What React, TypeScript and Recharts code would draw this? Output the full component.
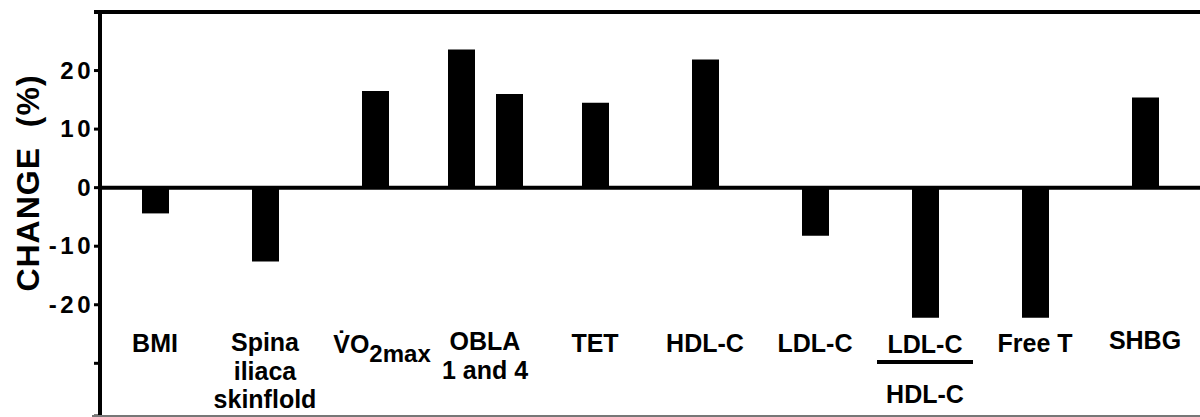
import React from 'react';
import { BarChart, Bar, XAxis, YAxis, ReferenceLine, Label } from 'recharts';

const categories = [
  'BMI',
  'Spina iliaca skinflold',
  'VO2max',
  'OBLA 1 and 4',
  'TET',
  'HDL-C',
  'LDL-C',
  'LDL-C/HDL-C',
  'Free T',
  'SHBG',
];
const changeValues: (number | null)[] = [-4.4, -12.6, 16.5, null, 14.5, 21.9, -8.2, -22.2, -22.2, 15.4];
const oblaCategory = 'OBLA 1 and 4';
const oblaOnset1Value = 23.6;
const oblaOnset4Value = 16.0;
const yDomain: [number, number] = [-39, 30];
const yTicks = [-39, -30, -20, -10, 0, 10, 20, 30];
const yTickLabels: Record<number, string> = { [-20]: '-20', [-10]: '-10', 0: '0', 10: '10', 20: '20' };
const yAxisTitle = 'CHANGE  (%)';

const data = categories.map((c, i) => ({
  category: c,
  change: changeValues[i],
  obla1: c === oblaCategory ? oblaOnset1Value : null,
  obla4: c === oblaCategory ? oblaOnset4Value : null,
}));

const FONT = '"Liberation Sans", Arial, sans-serif';
const CHART_W = 1200;

function YTick(props: any) {
  const { x, y, payload } = props;
  const v = payload.value as number;
  const axisX = x + 8;
  if (v === yDomain[1]) {
    return <line x1={axisX - 6} x2={CHART_W} y1={y} y2={y} stroke="#000" strokeWidth={4} />;
  }
  if (v === yDomain[0]) {
    return <line x1={axisX - 8} x2={CHART_W} y1={y} y2={y} stroke="#777" strokeWidth={2} />;
  }
  const label = yTickLabels[v];
  if (!label) return null;
  return (
    <text x={x + 2} y={y} dy={8} textAnchor="end" fontFamily={FONT} fontWeight="bold" fontSize={24}
      letterSpacing={3.5} fill="#000">
      {label}
    </text>
  );
}

function CategoryTick(props: any) {
  const { x, y, payload } = props;
  const v = payload.value as string;
  const base = y - 65;
  const common = { fontFamily: FONT, fontWeight: 'bold' as const, fontSize: 25, fill: '#000', textAnchor: 'middle' as const };
  if (v === 'Spina iliaca skinflold') {
    return (
      <g>
        <text x={x} y={base} {...common}>Spina</text>
        <text x={x} y={base + 29} {...common}>iliaca</text>
        <text x={x} y={base + 57} {...common}>skinflold</text>
      </g>
    );
  }
  if (v === 'OBLA 1 and 4') {
    return (
      <g>
        <text x={x} y={base - 1} {...common}>OBLA</text>
        <text x={x} y={base + 28} {...common}>1 and 4</text>
      </g>
    );
  }
  if (v === 'VO2max') {
    return (
      <text x={x + 7} y={base + 2} {...common}>
        <tspan>{'V\u0307O'}</tspan>
        <tspan dy={9} fontSize={24}>2max</tspan>
      </text>
    );
  }
  if (v === 'LDL-C/HDL-C') {
    return (
      <g>
        <text x={x} y={base + 2} {...common}>LDL-C</text>
        <line x1={x - 48} x2={x + 48} y1={base + 11} y2={base + 11} stroke="#000" strokeWidth={4} />
        <text x={x} y={base + 52} {...common}>HDL-C</text>
      </g>
    );
  }
  return (
    <text x={x} y={base + (v === 'SHBG' ? -2 : 1)} {...common}>{v}</text>
  );
}

function YTitle(props: any) {
  const vb = props.viewBox || { x: 0, y: 0, width: 100, height: 400 };
  const cx = vb.x + 28;
  const cy = vb.y + 171;
  return (
    <text x={cx} y={cy} transform={`rotate(-90, ${cx}, ${cy})`} textAnchor="middle" dominantBaseline="central"
      fontFamily={FONT} fontWeight="bold" fontSize={32} letterSpacing={1} fill="#000" style={{ whiteSpace: 'pre' }}>
      {yAxisTitle}
    </text>
  );
}

export default function App() {
  return (
    <div style={{ position: 'absolute', left: 0, top: 0, width: CHART_W, height: 417, overflow: 'hidden', background: '#fff' }}>
      <BarChart width={CHART_W} height={417} data={data} margin={{ top: 11, right: 0, bottom: 0, left: 0 }} barGap={21}>
        <XAxis dataKey="category" height={1} interval={0} tickLine={false} tickSize={0} tickMargin={0}
          axisLine={false} tick={<CategoryTick />} />
        <XAxis xAxisId="obla" dataKey="category" orientation="top" height={1} tick={false} tickLine={false}
          axisLine={false} />
        <YAxis type="number" width={100} domain={yDomain} ticks={yTicks} interval={0} allowDataOverflow
          axisLine={{ stroke: '#000', strokeWidth: 4 }} tickLine={{ stroke: '#000', strokeWidth: 3 }}
          tickSize={6} tickMargin={2} tick={<YTick />}>
          <Label content={<YTitle />} />
        </YAxis>
        <Bar dataKey="change" fill="#000" barSize={27} isAnimationActive={false} />
        <Bar dataKey="obla1" xAxisId="obla" fill="#000" barSize={27} isAnimationActive={false} />
        <Bar dataKey="obla4" xAxisId="obla" fill="#000" barSize={27} isAnimationActive={false} />
        <ReferenceLine y={0} stroke="#000" strokeWidth={4} />
      </BarChart>
    </div>
  );
}
